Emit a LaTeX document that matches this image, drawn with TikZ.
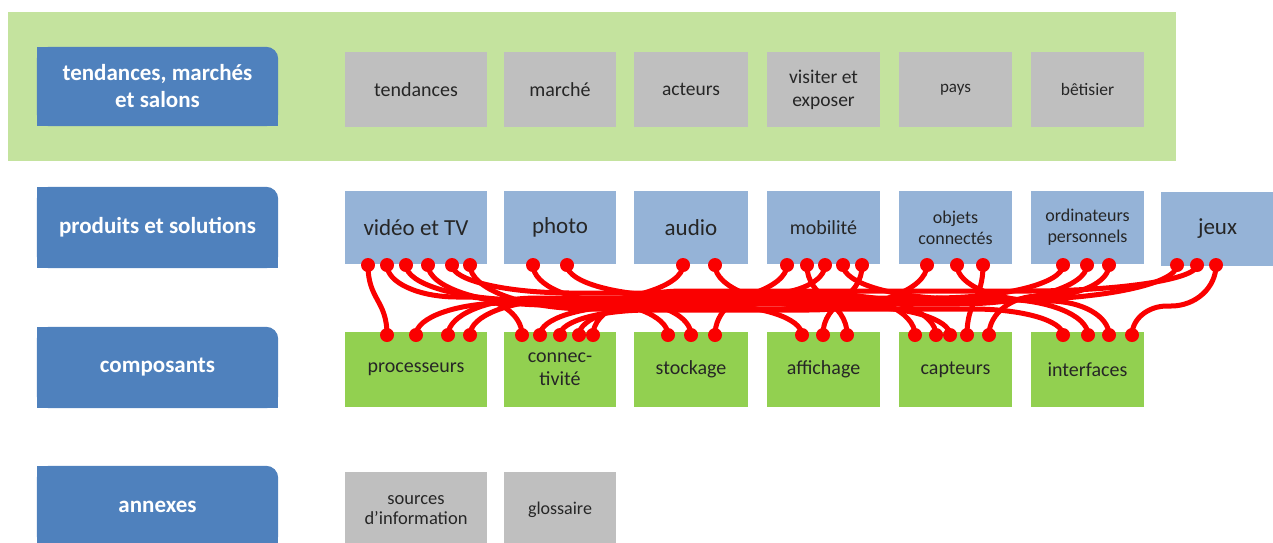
\documentclass[tikz,border=0pt]{standalone}
\usepackage{fontspec}
\setmainfont{Carlito}
\usetikzlibrary{calc,backgrounds}
\pgfdeclarelayer{wires}
\pgfsetlayers{background,wires,main}
\definecolor{band}{RGB}{196,227,158}
\definecolor{labblue}{RGB}{79,129,189}
\definecolor{gbox}{RGB}{191,191,191}
\definecolor{bbox}{RGB}{149,179,215}
\definecolor{cbox}{RGB}{146,208,80}
\definecolor{txt}{RGB}{38,38,38}
\definecolor{wred}{RGB}{250,0,0}
\newcommand\fsz[2]{\fontsize{#1}{#2}\selectfont}
\newcommand\wire[5]{\draw[wire] let \p1=(#1), \p2=(#2) in (\p1) .. controls (\x1,0.45*\y1-0.55*#3pt) and (\x1+0.45*#4pt,-#3pt) .. (\x1+#4pt,-#3pt) -- (\x2+#5pt,-#3pt) .. controls (\x2+0.45*#5pt,-#3pt) and (\x2,0.45*\y2-0.55*#3pt) .. (\p2);}
\newcommand\swire[3]{\draw[wire] let \p1=(#1), \p2=(#2) in (\p1) .. controls (\x1,-#3pt) and (\x2,-#3pt) .. (\p2);}
\newcommand\labfill[1]{\fill[labblue, rounded corners=12pt] (#1.south west) rectangle (#1.north east);
  \fill[labblue] (#1.south west) rectangle ($(#1.north east)+(-20,0)$);
  \fill[labblue] (#1.south west) rectangle (#1.east);}
\tikzset{
  lab/.style={text=white, font=\bfseries\fsz{23}{27}, align=center, inner sep=0, minimum width=241pt},
  cell/.style={text=txt, align=center, inner sep=0},
  gcell/.style={cell, fill=gbox},
  bcell/.style={cell, fill=bbox},
  ccell/.style={cell, fill=cbox},
  wire/.style={draw=wred, line width=5pt},
  dot/.style={circle, fill=wred, inner sep=0, minimum size=14pt},
}
\begin{document}
\begin{tikzpicture}[x=1pt,y=-1pt]
\useasboundingbox (0,0) rectangle (1273,542);
% row labels
\node[lab, minimum height=79pt] (L1) at (157.5,86.5) {tendances, marchés\\et salons};
\node[lab, minimum height=81pt] (L2) at (157.5,227.5) {produits et solutions};
\node[lab, minimum height=81pt] (L3) at (157.5,367.5) {composants};
\node[lab, minimum height=82pt] (L4) at (157.5,507) {annexes};
% row 1
\node[gcell, minimum width=142pt, minimum height=75pt, font=\fsz{20}{24}] (g1) at (416,89.5) {tendances};
\node[gcell, minimum width=112pt, minimum height=75pt, font=\fsz{20}{24}] (g2) at (560,89.5) {marché};
\node[gcell, minimum width=114pt, minimum height=75pt, font=\fsz{19.5}{23}] (g3) at (691,89.5) {acteurs};
\node[gcell, minimum width=113pt, minimum height=75pt, font=\fsz{19.5}{23}] (g4) at (823.5,89.5) {visiter et\\exposer};
\node[gcell, minimum width=113pt, minimum height=75pt, font=\fsz{17}{21}] (g5) at (955.5,89.5) {pays};
\node[gcell, minimum width=113pt, minimum height=75pt, font=\fsz{17.5}{21}] (g6) at (1087.5,89.5) {bêtisier};
% row 2
\node[bcell, minimum width=142pt, minimum height=73pt, font=\fsz{23}{27}] (b1) at (416,227.5) {vidéo et TV};
\node[bcell, minimum width=112pt, minimum height=73pt, font=\fsz{23}{27}] (b2) at (560,227.5) {photo};
\node[bcell, minimum width=114pt, minimum height=73pt, font=\fsz{23}{27}] (b3) at (691,227.5) {audio};
\node[bcell, minimum width=113pt, minimum height=73pt, font=\fsz{20}{24}] (b4) at (823.5,227.5) {mobilité};
\node[bcell, minimum width=113pt, minimum height=73pt, font=\fsz{18}{21}] (b5) at (955.5,227.5) {objets\\connectés};
\node[bcell, minimum width=113pt, minimum height=73pt, font=\fsz{18}{21}] (b6) at (1087.5,227.5) {ordinateurs\\personnels};
\node[bcell, minimum width=113pt, minimum height=74pt, font=\fsz{23}{27}] (b7) at (1217.5,229) {jeux};
% row 3
\node[ccell, minimum width=142pt, minimum height=75pt, font=\fsz{20}{24}] (c1) at (416,369.5) {processeurs};
\node[ccell, minimum width=112pt, minimum height=75pt, font=\fsz{20}{23}] (c2) at (560,369.5) {connec-\\tivité};
\node[ccell, minimum width=114pt, minimum height=75pt, font=\fsz{20}{24}] (c3) at (691,369.5) {stockage};
\node[ccell, minimum width=113pt, minimum height=75pt, font=\fsz{20}{24}] (c4) at (823.5,369.5) {affichage};
\node[ccell, minimum width=113pt, minimum height=75pt, font=\fsz{20}{24}] (c5) at (955.5,369.5) {capteurs};
\node[ccell, minimum width=113pt, minimum height=75pt, font=\fsz{20}{24}] (c6) at (1087.5,369.5) {interfaces};
% row 4
\node[gcell, minimum width=142pt, minimum height=76pt, font=\fsz{18.5}{20}] (a1box) at (416,510) {sources\\d’information};
\node[gcell, minimum width=112pt, minimum height=76pt, font=\fsz{18}{21}] (a2box) at (560,510) {glossaire};
% background band and label fills
\begin{pgfonlayer}{background}
\fill[band] (8,12) rectangle (1176,161);
\labfill{L1}\labfill{L2}\labfill{L3}\labfill{L4}
\end{pgfonlayer}
% top dots
\foreach \n/\x in {v1/368,v2/387,v3/406,v4/428,v5/452,v6/470,p1/533,p2/567,a1/683,a2/715,m1/787,m2/807,m3/825,m4/843,m5/862,o1/927,o2/957,o3/983,r1/1063,r2/1087,r3/1109,j1/1177,j2/1197,j3/1216}
  \node[dot] (\n) at (\x,265) {};
% bottom dots
\foreach \n/\x in {pr1/387,pr2/416,pr3/448,pr4/470,cn1/522,cn2/540,cn3/560,cn4/579,cn5/593,st1/668,st2/691,st3/715,af1/802,af2/823,af3/847,ca1/915,ca2/936,ca3/950,ca4/967,ca5/989,in1/1063,in2/1088,in3/1109,in4/1132}
  \node[dot] (\n) at (\x,335) {};
% wires
\begin{pgfonlayer}{wires}
\swire{v1}{pr1}{300}
\wire{v2}{cn1}{297}{70}{-55}
\wire{v3}{st1}{300}{120}{-90}
\wire{v4}{af1}{305}{120}{-90}
\wire{v5}{ca1}{293}{120}{-90}
\wire{v6}{in1}{309}{120}{-90}
\wire{p1}{st2}{302}{85}{-65}
\wire{p2}{ca2}{296}{110}{-90}
\wire{a1}{pr2}{303}{-120}{90}
\wire{a2}{ca3}{307}{110}{-90}
\wire{m1}{cn2}{306}{-120}{90}
\swire{m2}{af3}{300}
\wire{m3}{st3}{294}{-60}{45}
\wire{m4}{in2}{299}{120}{-90}
\swire{m5}{af2}{300}
\wire{o1}{cn3}{310}{-120}{90}
\wire{o2}{in3}{301}{85}{-60}
\swire{o3}{ca4}{300}
\wire{r1}{pr3}{298}{-130}{90}
\wire{r2}{cn4}{304}{-130}{90}
\wire{r3}{ca5}{296}{-65}{50}
\wire{j1}{pr4}{300}{-170}{90}
\wire{j2}{cn5}{291}{-170}{90}
\wire{j3}{in4}{306}{-45}{35}
\end{pgfonlayer}
\end{tikzpicture}
\end{document}
